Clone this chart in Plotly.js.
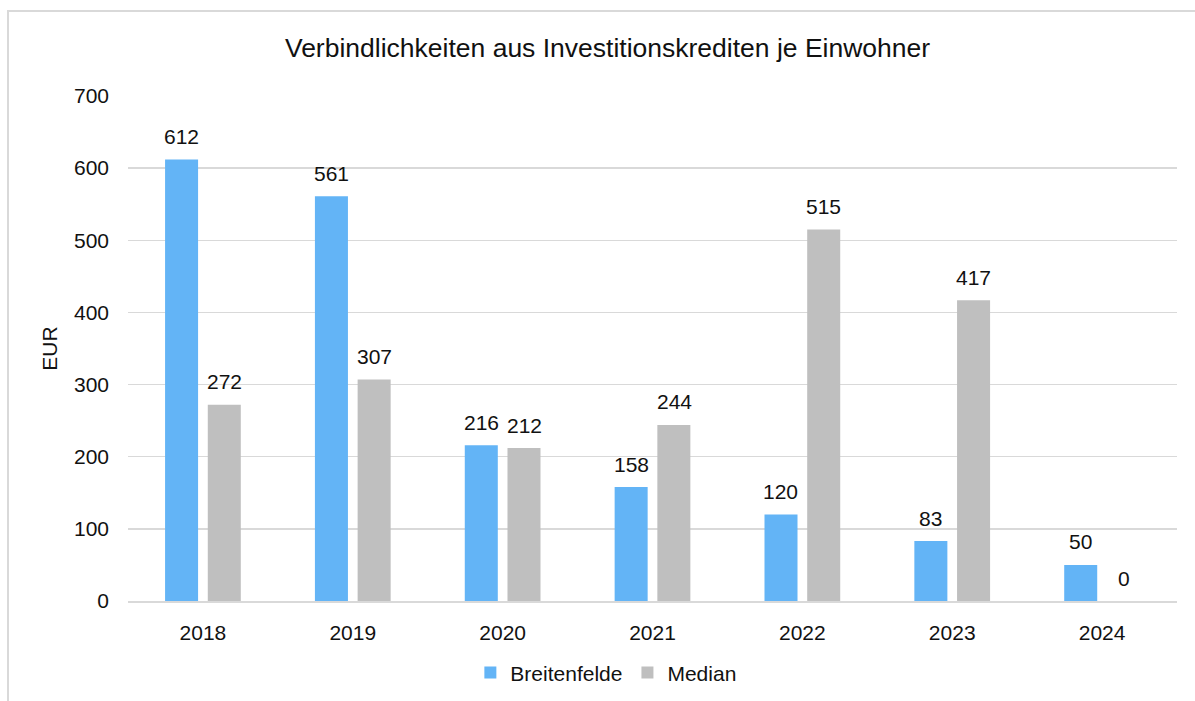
<!DOCTYPE html>
<html>
<head>
<meta charset="utf-8">
<script src="https://cdn.plot.ly/plotly-3.0.1.min.js"></script>
<style>
  html, body { margin: 0; padding: 0; background: #fff; }
  #wrap { position: relative; width: 1195px; height: 701px; overflow: hidden; }
  #chart { width: 1195px; height: 701px; }
  #frame { position: absolute; left: 7px; top: 10px; width: 1300px; height: 800px;
           border-left: 2px solid #D9D9D9; border-top: 2px solid #D9D9D9; pointer-events: none; }
</style>
</head>
<body>
<div id="wrap">
  <div id="chart"></div>
  <div id="frame"></div>
</div>
<script>
const years = ["2018", "2019", "2020", "2021", "2022", "2023", "2024"];
const breitenfelde = [612, 561, 216, 158, 120, 83, 50];
const median = [272, 307, 212, 244, 515, 417, 0];
const seriesNames = ["Breitenfelde", "Median"];
const colors = ["#63B4F6", "#BFBFBF"];
const titleText = "Verbindlichkeiten aus Investitionskrediten je Einwohner";
const yTitle = "EUR";

const font = "Liberation Sans, Arial, sans-serif";
const txtColor = "#111111";

const traces = [breitenfelde, median].map((vals, i) => ({
  type: "bar",
  name: seriesNames[i],
  x: years,
  y: vals,
  marker: { color: colors[i] },
  hoverinfo: "x+y+name"
}));

const annotations = [];
[breitenfelde, median].forEach((vals, i) => {
  vals.forEach((v, j) => {
    annotations.push({
      x: j, y: v, xref: "x", yref: "y",
      text: String(v), showarrow: false,
      xshift: i === 0 ? -21.5 : 21.5, yshift: 23,
      font: { family: font, size: 21, color: txtColor }
    });
  });
});

const layout = {
  width: 1195, height: 701,
  paper_bgcolor: "#ffffff", plot_bgcolor: "#ffffff",
  margin: { l: 128, r: 18, t: 96, b: 100 },
  font: { family: font, size: 21, color: txtColor },
  title: {
    text: titleText,
    font: { family: font, size: 26.5, color: txtColor },
    x: 0.5084, xref: "container", xanchor: "center",
    y: 0.9315, yref: "container", yanchor: "middle"
  },
  barmode: "group",
  bargap: 0.43,
  bargroupgap: 0.227,
  xaxis: {
    type: "category",
    range: [-0.5, years.length - 0.5],
    autorange: false,
    showgrid: false,
    showline: true, linecolor: "#D9D9D9", linewidth: 2,
    ticks: "",
    ticklabelstandoff: 12,
    tickfont: { family: font, size: 21, color: txtColor },
    zeroline: false
  },
  yaxis: {
    range: [0, 700],
    autorange: false,
    dtick: 100,
    showgrid: true, gridcolor: "#D9D9D9", gridwidth: 1.5,
    zeroline: false,
    showline: false,
    ticks: "",
    ticklabelstandoff: 18,
    tickfont: { family: font, size: 21, color: txtColor },
    title: { text: yTitle, font: { family: font, size: 21, color: txtColor }, standoff: 10 }
  },
  showlegend: true,
  legend: {
    orientation: "h",
    xref: "container", yref: "container",
    x: 0.507, xanchor: "center",
    y: 0.04, yanchor: "middle",
    font: { family: font, size: 21, color: txtColor },
    itemwidth: 30
  },
  annotations: annotations
};

Plotly.newPlot("chart", traces, layout, { displayModeBar: false, staticPlot: true });
</script>
</body>
</html>
